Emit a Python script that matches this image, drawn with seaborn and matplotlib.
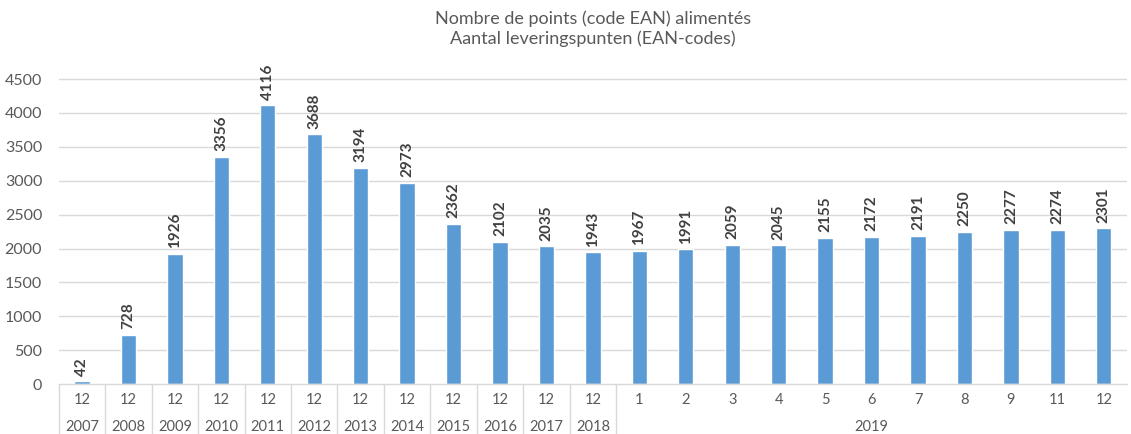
import numpy as np
import pandas as pd
import matplotlib
matplotlib.use("Agg")
import matplotlib.pyplot as plt
import matplotlib.transforms as mtransforms
import seaborn as sns

# data
years = ["2007", "2008", "2009", "2010", "2011", "2012", "2013", "2014",
         "2015", "2016", "2017", "2018",
         "2019", "2019", "2019", "2019", "2019", "2019", "2019", "2019",
         "2019", "2019", "2019"]
months = ["12"] * 12 + ["1", "2", "3", "4", "5", "6", "7", "8", "9", "11", "12"]
values = [42, 728, 1926, 3356, 4116, 3688, 3194, 2973, 2362, 2102, 2035, 1943,
          1967, 1991, 2059, 2045, 2155, 2172, 2191, 2250, 2277, 2274, 2301]
yticks = [0, 500, 1000, 1500, 2000, 2500, 3000, 3500, 4000, 4500]

title = "Nombre de points (code EAN) alimentés\nAantal leveringspunten (EAN-codes)"

BAR = "#5B9BD5"
GRID = "#D9D9D9"
TXT = "#595959"

df = pd.DataFrame({"key": [f"{y}-{m}" for y, m in zip(years, months)],
                   "year": years, "month": months, "value": values})

sns.set_theme(style="white")
plt.rcParams["font.family"] = ["Lato", "DejaVu Sans"]

fig = plt.figure(figsize=(11.31, 4.34), dpi=100)
ax = fig.add_axes([0.052, 0.115, 0.9445, 0.781])

sns.barplot(data=df, x="key", y="value", color=BAR, width=0.33,
            saturation=1, ax=ax)

ax.set_ylim(0, 5000)
ax.set_xlim(-0.5, len(df) - 0.5)
ax.set_yticks(yticks)
ax.set_yticklabels([str(t) for t in yticks], color=TXT, fontsize=11.5)
ax.tick_params(axis="y", length=0, pad=12)
ax.set_xticks([])
ax.set_xlabel("")
ax.set_ylabel("")
for t in yticks[1:]:
    ax.axhline(t, color=GRID, lw=1, zorder=0)
for s in ["top", "right", "left"]:
    ax.spines[s].set_visible(False)
ax.spines["bottom"].set_color(GRID)
ax.spines["bottom"].set_linewidth(1)

ax.bar_label(ax.containers[0], rotation=90, padding=4, fontsize=11,
             fontweight="bold", color="#404040")

# two-level category axis
trans = mtransforms.blended_transform_factory(ax.transData, ax.transAxes)
for i, m in enumerate(df["month"]):
    ax.text(i, -0.047, m, transform=trans, ha="center", va="center",
            fontsize=10.5, color=TXT)

year_order = list(dict.fromkeys(years))
for y in year_order:
    idx = np.where(df["year"] == y)[0]
    ax.text(idx.mean(), -0.128, y, transform=trans, ha="center",
            va="center", fontsize=10.5, color=TXT)

# separators between year groups (and between months of the single years)
bounds = [-0.5]
for y in year_order:
    idx = np.where(df["year"] == y)[0]
    bounds.append(idx.max() + 0.5)
for b in bounds[:-1]:
    ax.plot([b, b], [0, -0.16], transform=trans, color=GRID, lw=1,
            clip_on=False)

fig.suptitle(title, x=0.524, y=0.975, fontsize=13, color=TXT,
             linespacing=1.25)

fig.savefig("out.png", dpi=100)
